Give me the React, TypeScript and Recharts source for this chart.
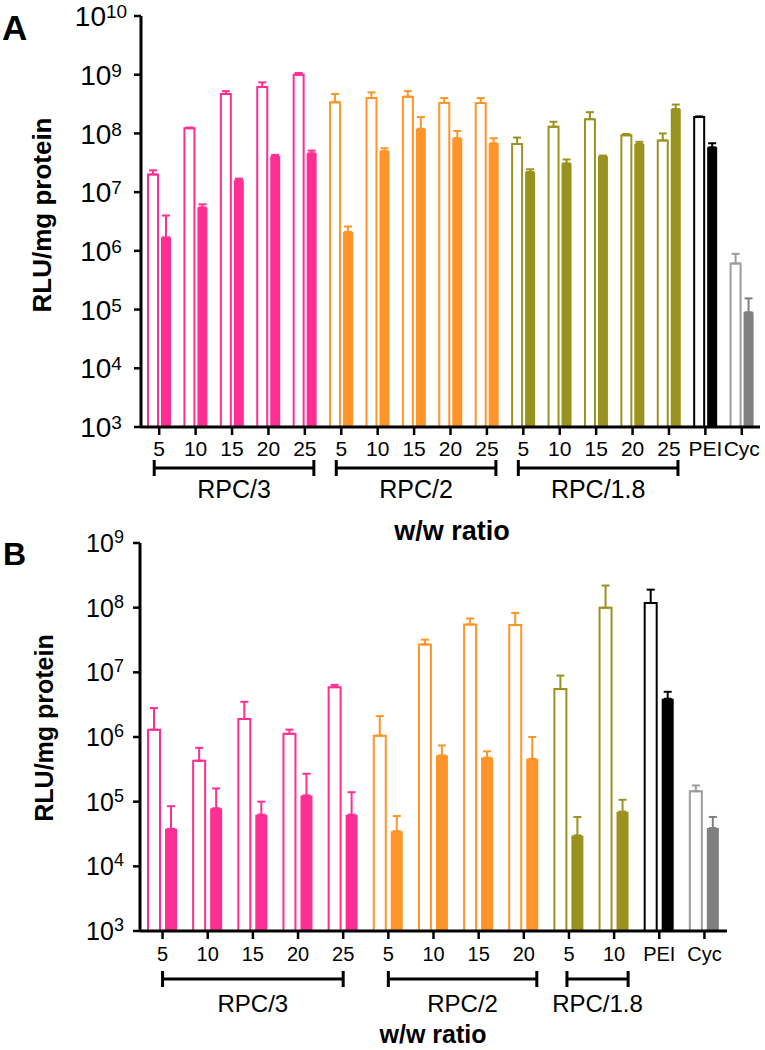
import { BarChart, Bar, XAxis, YAxis, ErrorBar, Cell } from "recharts"

const FONT = '"Liberation Sans", Arial, Helvetica, sans-serif'

// ---- panel A (RLU/mg protein, log scale) ----
const aRatio = ["5", "10", "15", "20", "25", "5", "10", "15", "20", "25", "5", "10", "15", "20", "25", "PEI", "Cyc"]
const aGroup = [
  "RPC/3", "RPC/3", "RPC/3", "RPC/3", "RPC/3",
  "RPC/2", "RPC/2", "RPC/2", "RPC/2", "RPC/2",
  "RPC/1.8", "RPC/1.8", "RPC/1.8", "RPC/1.8", "RPC/1.8",
  "PEI", "Cyc",
]
const aOpen = [2.0e7, 1.23e8, 4.7e8, 6.2e8, 1.0e9, 3.4e8, 4.0e8, 4.2e8, 3.3e8, 3.3e8, 6.6e7, 1.3e8, 1.75e8, 9.3e7, 7.6e7, 1.9e8, 6.1e5]
const aOpenTop = [2.35e7, 1.26e8, 5.25e8, 7.4e8, 1.07e9, 4.7e8, 5.0e8, 5.25e8, 4.0e8, 4.0e8, 8.5e7, 1.58e8, 2.3e8, 9.8e7, 1.0e8, 1.95e8, 8.9e5]
const aFilled = [1.7e6, 5.5e6, 1.6e7, 4.1e7, 4.6e7, 2.1e6, 5.0e7, 1.2e8, 8.3e7, 6.8e7, 2.2e7, 3.1e7, 4.1e7, 6.6e7, 2.6e8, 5.8e7, 9.0e4]
const aFilledTop = [4.0e6, 6.2e6, 1.7e7, 4.3e7, 5.1e7, 2.6e6, 5.6e7, 1.9e8, 1.1e8, 8.3e7, 2.45e7, 3.6e7, 4.2e7, 7.2e7, 3.1e8, 6.8e7, 1.55e5]

// ---- panel B ----
const bRatio = ["5", "10", "15", "20", "25", "5", "10", "15", "20", "5", "10", "PEI", "Cyc"]
const bGroup = [
  "RPC/3", "RPC/3", "RPC/3", "RPC/3", "RPC/3",
  "RPC/2", "RPC/2", "RPC/2", "RPC/2",
  "RPC/1.8", "RPC/1.8",
  "PEI", "Cyc",
]
const bOpen = [1.3e6, 4.3e5, 1.9e6, 1.12e6, 5.9e6, 1.05e6, 2.7e7, 5.5e7, 5.4e7, 5.5e6, 1.0e8, 1.18e8, 1.45e5]
const bOpenTop = [2.8e6, 6.8e5, 3.5e6, 1.3e6, 6.4e6, 2.1e6, 3.2e7, 6.8e7, 8.3e7, 8.9e6, 2.2e8, 1.9e8, 1.78e5]
const bFilled = [3.8e4, 7.9e4, 6.3e4, 1.25e5, 6.3e4, 3.5e4, 5.2e5, 4.8e5, 4.6e5, 3.0e4, 7.0e4, 3.9e6, 3.9e4]
const bFilledTop = [8.5e4, 1.6e5, 1.0e5, 2.7e5, 1.4e5, 6.0e4, 7.4e5, 6.0e5, 1.0e6, 5.8e4, 1.07e5, 5.0e6, 5.8e4]

const aTicks = [1e3, 1e4, 1e5, 1e6, 1e7, 1e8, 1e9, 1e10]
const bTicks = [1e3, 1e4, 1e5, 1e6, 1e7, 1e8, 1e9]

const FILL: Record<string, string> = {
  "RPC/3": "#FF2E93",
  "RPC/2": "#FF9528",
  "RPC/1.8": "#9A921E",
  PEI: "#000000",
  Cyc: "#808080",
}
const OUTLINE: Record<string, string> = { ...FILL, Cyc: "#9C9C9C" }

type Row = { key: string; ratio: string; group: string; open: number; openTop: number; filled: number; filledTop: number }

const buildRows = (ratio: string[], group: string[], open: number[], openTop: number[], filled: number[], filledTop: number[]): Row[] =>
  ratio.map((r, i) => ({
    key: group[i] + "-" + r,
    ratio: r,
    group: group[i],
    open: open[i],
    openTop: openTop[i],
    filled: filled[i],
    filledTop: filledTop[i],
  }))

const aRows = buildRows(aRatio, aGroup, aOpen, aOpenTop, aFilled, aFilledTop)
const bRows = buildRows(bRatio, bGroup, bOpen, bOpenTop, bFilled, bFilledTop)

type Cfg = {
  letter: string
  top: number
  height: number
  marginTop: number
  marginRight: number
  yAxisWidth: number
  plotBottom: number
  domainMax: number
  ticks: number[]
  yTickCx: number
  baseFont: number
  supFont: number
  supShift: number
  tickBase: number
  tickFont: number
  bracketY: number
  bracketExt: Record<string, [number, number]>
  groupBase: number
  groupFont: number
  xTitleX: number
  xTitleY: number
  xTitleFont: number
  yTitleX: number
  yTitleY: number
  yTitleFont: number
  letterX: number
  letterY: number
  letterFont: number
  barSize: number
  barGap: number
  errHalf: number
}

const cfgA: Cfg = {
  letter: "A", top: 0, height: 560, marginTop: 16, marginRight: 5, yAxisWidth: 141, plotBottom: 427,
  domainMax: 1e10, ticks: aTicks, yTickCx: 101, baseFont: 28, supFont: 19, supShift: 8,
  tickBase: 456, tickFont: 21, bracketY: 468,
  bracketExt: { "RPC/3": [-5, 9], "RPC/2": [-5, 9], "RPC/1.8": [-5, 9] },
  groupBase: 498, groupFont: 25, xTitleX: 452, xTitleY: 540, xTitleFont: 27,
  yTitleX: 42, yTitleY: 215, yTitleFont: 26, letterX: 2, letterY: 40, letterFont: 35,
  barSize: 10, barGap: 3, errHalf: 4,
}

const cfgB: Cfg = {
  letter: "B", top: 500, height: 550, marginTop: 43, marginRight: 38, yAxisWidth: 140, plotBottom: 431,
  domainMax: 1e9, ticks: bTicks, yTickCx: 105, baseFont: 25, supFont: 18, supShift: 9,
  tickBase: 461, tickFont: 20, bracketY: 479,
  bracketExt: { "RPC/3": [0, 0], "RPC/2": [0, 13], "RPC/1.8": [-2, 14] },
  groupBase: 512, groupFont: 24, xTitleX: 433, xTitleY: 543, xTitleFont: 25,
  yTitleX: 44, yTitleY: 228, yTitleFont: 25, letterX: 3, letterY: 65, letterFont: 32,
  barSize: 12, barGap: 5, errHalf: 4,
}

const WIDTH = 765
const GROUPS = ["RPC/3", "RPC/2", "RPC/1.8", "PEI", "Cyc"]

const Panel = ({ rows, cfg }: { rows: Row[]; cfg: Cfg }) => {
  const plotLeft = cfg.yAxisWidth
  const plotRight = WIDTH - cfg.marginRight
  const band = (plotRight - plotLeft) / rows.length
  const xAxisHeight = cfg.height - cfg.plotBottom

  const XTick = (props: any) => {
    const { x, payload } = props
    const idx = rows.findIndex((r) => r.key === payload.value)
    const row = rows[idx]
    if (!row) return null
    const first = idx === 0 || rows[idx - 1].group !== row.group
    const count = rows.filter((r) => r.group === row.group).length
    const ext = cfg.bracketExt[row.group]
    let bracket = null
    if (first && count > 1 && ext) {
      const x1 = x + ext[0]
      const x2 = x + (count - 1) * band + ext[1]
      const y = cfg.bracketY
      bracket = (
        <g stroke="#000" strokeWidth={3}>
          <line x1={x1} y1={y} x2={x2} y2={y} />
          <line x1={x1} y1={y - 8} x2={x1} y2={y + 8} />
          <line x1={x2} y1={y - 8} x2={x2} y2={y + 8} />
          <text
            x={(x1 + x2) / 2}
            y={cfg.groupBase}
            textAnchor="middle"
            fontFamily={FONT}
            fontSize={cfg.groupFont}
            fill="#000"
            stroke="none"
          >
            {row.group}
          </text>
        </g>
      )
    }
    return (
      <g>
        <text x={x} y={cfg.tickBase} textAnchor="middle" fontFamily={FONT} fontSize={cfg.tickFont} fill="#000">
          {row.ratio}
        </text>
        {bracket}
      </g>
    )
  }

  const YTick = (props: any) => {
    const { y, payload } = props
    const exp = Math.round(Math.log10(payload.value))
    return (
      <text x={cfg.yTickCx} y={y + cfg.baseFont * 0.36} textAnchor="middle" fontFamily={FONT} fontSize={cfg.baseFont} fill="#000">
        10
        <tspan dy={-cfg.supShift} fontSize={cfg.supFont}>
          {exp}
        </tspan>
      </text>
    )
  }

  const YTitle = () => (
    <g>
      <text
        x={cfg.yTitleX}
        y={cfg.yTitleY}
        transform={`rotate(-90 ${cfg.yTitleX} ${cfg.yTitleY})`}
        textAnchor="middle"
        dominantBaseline="central"
        fontFamily={FONT}
        fontWeight="bold"
        fontSize={cfg.yTitleFont}
        fill="#000"
      >
        RLU/mg protein
      </text>
      <text x={cfg.letterX} y={cfg.letterY} fontFamily={FONT} fontWeight="bold" fontSize={cfg.letterFont} fill="#000">
        {cfg.letter}
      </text>
    </g>
  )

  const XTitle = () => (
    <text x={cfg.xTitleX} y={cfg.xTitleY} textAnchor="middle" fontFamily={FONT} fontWeight="bold" fontSize={cfg.xTitleFont} fill="#000">
      w/w ratio
    </text>
  )

  return (
    <div style={{ position: "absolute", left: 0, top: cfg.top }}>
      <BarChart
        width={WIDTH}
        height={cfg.height}
        data={rows}
        margin={{ top: cfg.marginTop, right: cfg.marginRight, left: 0, bottom: 0 }}
        barSize={cfg.barSize}
        barGap={cfg.barGap}
      >
        <XAxis
          dataKey="key"
          interval={0}
          height={xAxisHeight}
          tick={XTick}
          tickSize={8}
          tickLine={{ stroke: "#000", strokeWidth: 2.5 }}
          axisLine={{ stroke: "#000", strokeWidth: 3 }}
          label={XTitle}
        />
        <YAxis
          scale="log"
          domain={[1e3, cfg.domainMax]}
          allowDataOverflow
          ticks={cfg.ticks}
          interval={0}
          width={cfg.yAxisWidth}
          tick={YTick}
          tickSize={7}
          tickLine={{ stroke: "#000", strokeWidth: 2.5 }}
          axisLine={{ stroke: "#000", strokeWidth: 3 }}
          label={YTitle}
        />
        <Bar dataKey="open" fill="#fff" strokeWidth={2} isAnimationActive={false}>
          {rows.map((r) => (
            <Cell key={r.key} fill="#fff" stroke={OUTLINE[r.group]} />
          ))}
          {GROUPS.map((g) => (
            <ErrorBar
              key={g}
              dataKey={(d: Row) => (d.group === g ? [0, d.openTop - d.open] : undefined)}
              width={cfg.errHalf}
              stroke={OUTLINE[g]}
              strokeWidth={2}
              direction="y"
              isAnimationActive={false}
            />
          ))}
        </Bar>
        <Bar dataKey="filled" isAnimationActive={false}>
          {rows.map((r) => (
            <Cell key={r.key} fill={FILL[r.group]} />
          ))}
          {GROUPS.map((g) => (
            <ErrorBar
              key={g}
              dataKey={(d: Row) => (d.group === g ? [0, d.filledTop - d.filled] : undefined)}
              width={cfg.errHalf}
              stroke={FILL[g]}
              strokeWidth={2}
              direction="y"
              isAnimationActive={false}
            />
          ))}
        </Bar>
      </BarChart>
    </div>
  )
}

export default function App() {
  return (
    <div style={{ position: "absolute", left: 0, top: 0, width: WIDTH, height: 1050, background: "#fff" }}>
      <Panel rows={aRows} cfg={cfgA} />
      <Panel rows={bRows} cfg={cfgB} />
    </div>
  )
}
